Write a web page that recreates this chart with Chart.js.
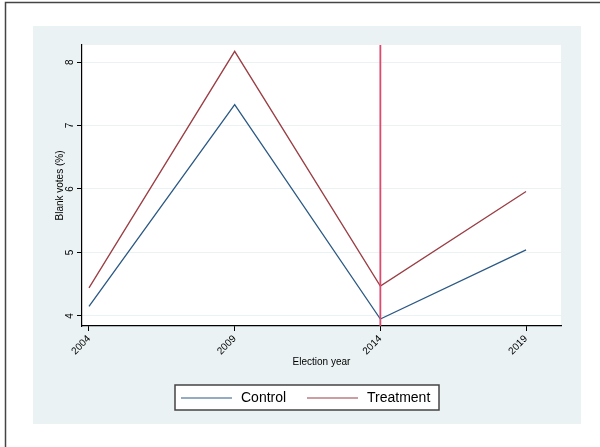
<!DOCTYPE html>
<html>
<head>
<meta charset="utf-8">
<script src="https://cdn.jsdelivr.net/npm/chart.js@4/dist/chart.umd.min.js"></script>
<style>
  html, body { margin: 0; padding: 0; background: #fff; }
  #wrap { width: 600px; height: 447px; position: relative; }
</style>
</head>
<body>
<div id="wrap"><canvas id="chart"></canvas></div>
<script>
// data
const years = [2004, 2009, 2014, 2019];
const control = [4.15, 7.33, 3.95, 5.04];
const treatment = [4.44, 8.17, 4.47, 5.96];
const yTicks = [4, 5, 6, 7, 8];
const eventYear = 2014;

const NAVY = "#2a5883";
const MAROON = "#9a3d44";
const PANEL = "#eaf2f3";
const font = "'Liberation Sans', Arial, sans-serif";

function points(vals) {
  return years.map((x, i) => ({ x, y: vals[i] }));
}

// stata style background: outer frame + light panel
const backdrop = {
  id: "backdrop",
  beforeDraw(chart) {
    const ctx = chart.ctx;
    const a = chart.chartArea;
    ctx.save();
    ctx.fillStyle = "#fff";
    ctx.fillRect(0, 0, chart.width, chart.height);
    ctx.fillStyle = PANEL;
    ctx.fillRect(33, 26, 548, 398);
    ctx.fillStyle = "#fff";
    ctx.fillRect(a.left, a.top, a.right - a.left, a.bottom - a.top);
    ctx.strokeStyle = "#444";
    ctx.lineWidth = 1.5;
    ctx.beginPath();
    ctx.moveTo(5.5, chart.height);
    ctx.lineTo(5.5, 2.5);
    ctx.lineTo(chart.width, 2.5);
    ctx.stroke();
    ctx.restore();
  },
};

// vertical reference line at the event year
const xline = {
  id: "xline",
  afterDatasetsDraw(chart) {
    const ctx = chart.ctx;
    const a = chart.chartArea;
    const x = chart.scales.x.getPixelForValue(eventYear);
    ctx.save();
    ctx.strokeStyle = "#dc4a6e";
    ctx.lineWidth = 1.8;
    ctx.beginPath();
    ctx.moveTo(x, a.top);
    ctx.lineTo(x, a.bottom);
    ctx.stroke();
    ctx.restore();
  },
};

// boxed legend like stata's
const boxLegend = {
  id: "boxLegend",
  afterDraw(chart) {
    const ctx = chart.ctx;
    const sets = chart.data.datasets;
    const bx = 175, by = 385, bw = 264, bh = 25;
    ctx.save();
    ctx.fillStyle = "#fff";
    ctx.fillRect(bx, by, bw, bh);
    ctx.strokeStyle = "#444";
    ctx.lineWidth = 1.5;
    ctx.strokeRect(bx, by, bw, bh);
    ctx.font = "14px " + font;
    ctx.textBaseline = "middle";
    ctx.fillStyle = "#000";
    sets.forEach((ds, i) => {
      const x0 = bx + 6 + i * 126;
      const yc = by + bh / 2 + 0.5;
      ctx.strokeStyle = ds.borderColor;
      ctx.lineWidth = 1.2;
      ctx.beginPath();
      ctx.moveTo(x0, yc);
      ctx.lineTo(x0 + 51, yc);
      ctx.stroke();
      ctx.fillText(ds.label, x0 + 60, yc);
    });
    ctx.restore();
  },
};

new Chart(document.getElementById("chart"), {
  type: "line",
  data: {
    datasets: [
      { label: "Control", data: points(control), borderColor: NAVY },
      { label: "Treatment", data: points(treatment), borderColor: MAROON },
    ],
  },
  options: {
    responsive: true,
    maintainAspectRatio: false,
    animation: false,
    events: [],
    layout: { padding: { left: 33, right: 39, top: 45, bottom: 62 } },
    elements: {
      line: { borderWidth: 1.3, tension: 0, fill: false },
      point: { radius: 0 },
    },
    plugins: { legend: { display: false }, tooltip: { enabled: false } },
    scales: {
      x: {
        type: "linear",
        min: 2003.76,
        max: 2020.2,
        afterBuildTicks(s) { s.ticks = years.map((v) => ({ value: v })); },
        afterFit(s) { s.height = 59; },
        grid: { drawOnChartArea: false, tickLength: 5, tickColor: "#000" },
        border: { display: true, color: "#000", width: 1.2 },
        ticks: {
          minRotation: 45,
          maxRotation: 45,
          padding: 2,
          color: "#000",
          font: { family: font, size: 10 },
          callback: (v) => String(v),
        },
        title: {
          display: true,
          text: "Election year",
          color: "#000",
          font: { family: font, size: 10 },
          padding: { top: 0, bottom: 17 },
        },
      },
      y: {
        min: 3.84,
        max: 8.27,
        afterBuildTicks(s) { s.ticks = yTicks.map((v) => ({ value: v })); },
        afterFit(s) { s.width = 49; },
        grid: { color: PANEL, lineWidth: 1, tickLength: 5, tickColor: "#000" },
        border: { display: true, color: "#000", width: 1.2 },
        ticks: {
          minRotation: 90,
          maxRotation: 90,
          crossAlign: "center",
          padding: 4,
          color: "#000",
          font: { family: font, size: 10 },
        },
        title: {
          display: true,
          text: "Blank votes (%)",
          color: "#000",
          font: { family: font, size: 10 },
          padding: { top: 21, bottom: 0 },
        },
      },
    },
  },
  plugins: [backdrop, xline, boxLegend],
});
</script>
</body>
</html>
